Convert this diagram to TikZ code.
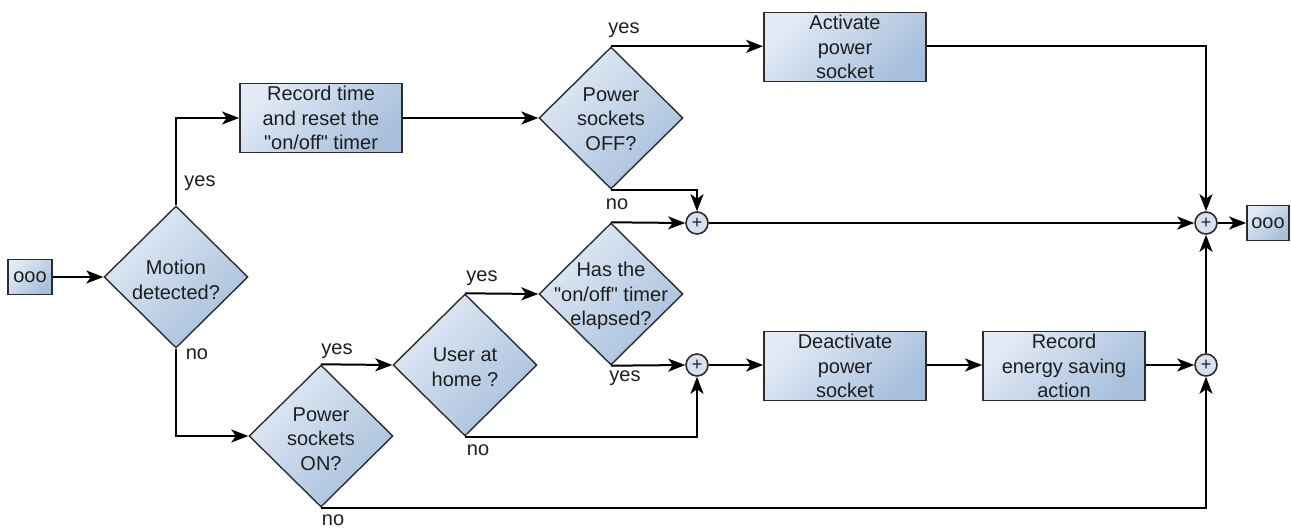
\documentclass[tikz,border=0pt]{standalone}
\usepackage{fontspec}
\newfontfamily\lsans{Liberation Sans}
\usetikzlibrary{arrows.meta,shapes.geometric}
\definecolor{cl}{HTML}{E2EAF5}
\definecolor{cd}{HTML}{A7BFDC}
\definecolor{pc}{HTML}{D6E2F1}
\definecolor{bd}{HTML}{2C2C2C}
\definecolor{tx}{HTML}{1E1E1E}
\begin{document}
\begin{tikzpicture}[x=1pt,y=-1pt,
  every node/.style={font=\lsans\fontsize{20}{24.5}\selectfont, text=tx},
  shadefill/.style={left color=cl, right color=cd, shading angle=45},
  procbox/.style={rectangle, draw=bd, line width=1.8pt, shadefill,
    minimum width=162pt, minimum height=69pt, inner sep=0pt, align=center},
  smallbox/.style={rectangle, draw=bd, line width=1.8pt, shadefill,
    minimum width=44pt, minimum height=35pt, inner sep=0pt},
  decision/.style={diamond, draw=bd, line width=1.4pt, shadefill,
    minimum width=144pt, minimum height=142pt, inner sep=0pt},
  dtext/.style={inner sep=0pt, align=center},
  junction/.style={circle, draw=bd, line width=1.6pt, fill=pc, minimum size=22pt,
    inner sep=0pt, font=\lsans\fontsize{18}{18}\selectfont},
  lbl/.style={inner sep=0pt},
  conn/.style={line width=2pt, draw=black, -{Stealth[length=17pt,width=13pt,inset=4.5pt]}},
  plain/.style={line width=2pt, draw=black}
]
\useasboundingbox (0,0) rectangle (1292,530);

% nodes
\node[smallbox] (start) at (30,277) {ooo};
\node[decision] (motion) at (176,277) {};
\node[dtext] (motiont) at (176,280) {Motion\\detected?};
\node[procbox] (rec) at (321,118) {Record time\\and reset the\\"on/off" timer};
\node[decision] (off) at (611,118) {};
\node[dtext] (offt) at (611,119) {Power\\sockets\\OFF?};
\node[procbox] (act) at (845,47) {Activate\\power\\socket};
\node[junction] (p1) at (697,223) {+};
\node[junction] (p3) at (1206,223) {+};
\node[smallbox, minimum width=42pt] (end) at (1268,223) {ooo};
\node[decision] (tim) at (611,294) {};
\node[dtext] (timt) at (611,296) {Has the\\"on/off" timer\\elapsed?};
\node[decision] (user) at (465,365) {};
\node[dtext] (usert) at (465,367) {User at\\home ?};
\node[decision] (on) at (321,436) {};
\node[dtext] (ont) at (321,439) {Power\\sockets\\ON?};
\node[junction] (p2) at (697,365) {+};
\node[procbox] (deact) at (845,366) {Deactivate\\power\\socket};
\node[procbox] (recE) at (1064,366) {Record\\energy saving\\action};
\node[junction] (p4) at (1206,365) {+};

% labels
\node[lbl] (l1) at (200,183) {yes};
\node[lbl] (l2) at (197,354) {no};
\node[lbl] (l3) at (624,30) {yes};
\node[lbl] (l4) at (617,204) {no};
\node[lbl] (l5) at (625,378) {yes};
\node[lbl] (l6) at (482,278) {yes};
\node[lbl] (l7) at (478,450) {no};
\node[lbl] (l8) at (337,351) {yes};
\node[lbl] (l9) at (333,520) {no};

% connectors
\draw[conn] (start.east) -- (motion.west);
\draw[conn] (motion.north) |- (rec.west);
\draw[conn] (rec.east) -- (off.west);
\draw[conn] (off.north) -- (off.north -| act.west);
\draw[conn] (act.east |- off.north) -| (p3.north);
\draw[conn] (off.south) -| (p1.north);
\draw[conn] (tim.north) -- (p1.west);
\draw[conn] (p1.east) -- (p3.west);
\draw[conn] (p3.east) -- (end.west);
\draw[conn] (motion.south) |- (on.west);
\draw[conn] (on.north) -- (user.west);
\draw[conn] (on.south) -| (p4.south);
\draw[conn] (user.north) -- (tim.west);
\draw[conn] (user.south) -| (p2.south);
\draw[conn] (tim.south) -- (p2.west);
\draw[conn] (p2.east) -- (deact.west |- p2.east);
\draw[conn] (deact.east |- p2.east) -- (recE.west |- p2.east);
\draw[conn] (recE.east |- p4.west) -- (p4.west);
\draw[conn] (p4.north) -- (p3.south);
\end{tikzpicture}
\end{document}
